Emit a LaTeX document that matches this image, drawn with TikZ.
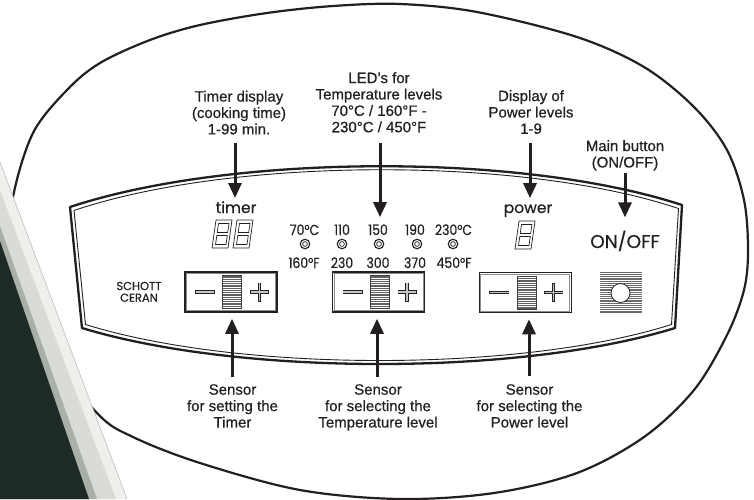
\documentclass[tikz,border=0pt]{standalone}
\usepackage{fontspec}
\setmainfont{Liberation Sans}[FakeBold=0.5]
\newfontfamily\pf{Poppins}[FakeBold=0.4]
\newfontfamily\pfn{Poppins}[FakeStretch=0.86,FakeBold=0.3]
\usetikzlibrary{arrows.meta,calc}
\definecolor{ink}{HTML}{231F20}
\definecolor{darkside}{HTML}{1E2A26}
\definecolor{stripgray}{HTML}{A9B0A8}
\definecolor{striplight}{HTML}{D9DCD5}
\definecolor{striphigh}{HTML}{EFF0EC}
\tikzset{
  digitpic/.pic={
    \draw[ink, line width=0.7pt, line join=round] (4,0) -- (20,0) -- (16,28) -- (0,28) -- cycle;
    \draw[ink, line width=0.7pt, line join=round] (6.5,3.5) -- (17,3.5) -- (15.7,12.5) -- (5.2,12.5) -- cycle;
    \draw[ink, line width=0.7pt, line join=round] (4.8,15.5) -- (15.3,15.5) -- (14,24.5) -- (3.5,24.5) -- cycle;
  },
  sensorin/.pic={
    \fill[white] (-8.5,-16.5) rectangle (10.5,16.5);
    \foreach \yy in {-16,-14.2,...,16.5} \draw[black!62, line width=0.95pt] (-8.5,\yy) -- (10.5,\yy);
    \draw[black!75, line width=0.6pt] (-8.5,-16.5) rectangle (10.5,16.5);
    \draw[ink, line width=3.2pt] (-36,0) -- (-16,0);
    \draw[black!22, line width=1.2pt] (-35.2,0) -- (-16.8,0);
    \draw[ink, line width=3.2pt] (19,0) -- (38,0);
    \draw[ink, line width=3.2pt] (28.5,-9.5) -- (28.5,9.5);
    \draw[black!22, line width=1.2pt] (19.8,0) -- (37.2,0);
    \draw[black!22, line width=1.2pt] (28.5,-8.7) -- (28.5,8.7);
  }
}
\begin{document}
\begin{tikzpicture}[x=1pt,y=-1pt,
  lbl/.style={font=\fontsize{15}{16.4}\selectfont, text=ink, align=center, inner sep=0pt},
  arr/.style={draw=ink, line width=3pt, -{Triangle[width=13pt,length=15pt]}},
  pnl/.style={font=\pf\fontsize{15.5}{15.5}\selectfont, text=ink, inner sep=0pt, anchor=base},
  tmp/.style={font=\pfn\fontsize{14.5}{14.5}\selectfont, text=ink, inner sep=0pt, anchor=base},
  ledc/.style={circle, draw=ink, line width=1.1pt, minimum size=9.5pt, inner sep=0pt},
  sbox/.style={draw=ink, line width=1.5pt, minimum width=92pt, minimum height=40pt, inner sep=0pt, fill=white}
]
\useasboundingbox (0,0) rectangle (754,499);
\fill[white] (0,0) rectangle (754,499);

% big oval
\draw[ink, line width=2.2pt] plot[smooth cycle, tension=0.55] coordinates {
 (13,197) (33,133) (67,90) (100,63) (150,40) (200,25) (267,13) (333,6) (400,4)
 (477,12) (577,37) (644,67) (694,107) (727,150) (744,200) (748,250) (744,290)
 (727,335) (694,390) (644,437) (577,473) (494,493) (400,499) (300,490) (200,463)
 (133,437) (97,413) (40,340) (8,260)};

% cooktop side strip
\fill[striphigh] (0,162) -- (127,499) -- (0,499) -- cycle;
\fill[striplight] (0,190) -- (116,499) -- (0,499) -- cycle;
\fill[stripgray] (0,226) -- (97,499) -- (0,499) -- cycle;
\fill[darkside] (0,241) -- (89,499) -- (0,499) -- cycle;
\draw[black!25, line width=0.6pt] (0,162) -- (127,499);

% control panel (double outline)
\draw[ink, line width=2.3pt, line join=round]
  (82,328) -- (70,207) .. controls (230,154) and (520,152) .. (682,205)
  -- (675,328) .. controls (520,376) and (240,376) .. (82,328) -- cycle;
\draw[ink, line width=0.9pt, line join=round]
  (85.5,324.5) -- (74,210.5) .. controls (230,157.5) and (520,155.5) .. (678.5,208.5)
  -- (671.5,324.5) .. controls (520,372.5) and (240,372.5) .. (85.5,324.5) -- cycle;

% panel texts
\node[pnl] (timertxt) at (236,213) {timer};
\node[pnl] (powertxt) at (528,213) {power};
\node[pnl, font=\pf\fontsize{18.5}{18.5}\selectfont] (onofftxt) at (625,248) {ON/OFF};
\node[font=\pf\fontsize{11.5}{11.7}\selectfont, text=ink, inner sep=0pt, align=center, anchor=north] (schott) at (139,281.7) {SCHOTT\\CERAN};

% digits
\pic at (212,220) {digitpic};
\pic at (233,220) {digitpic};
\pic at (515,221) {digitpic};

% temperature LEDs
\node[tmp] (c1) at (304.5,235) {70°C};
\node[tmp] (c2) at (342,235) {110};
\node[tmp] (c3) at (378,235) {150};
\node[tmp] (c4) at (415,235) {190};
\node[tmp] (c5) at (453.5,235) {230°C};
\node[tmp] (f1) at (304,268) {160°F};
\node[tmp] (f2) at (342,268) {230};
\node[tmp] (f3) at (378,268) {300};
\node[tmp] (f4) at (415,268) {370};
\node[tmp] (f5) at (454,268) {450°F};
\foreach \i/\xx in {1/305,2/342,3/379,4/417,5/453}{
  \node[ledc] (led\i) at (\xx,244) {};
  \draw[ink, line width=0.7pt] (led\i.center) circle[radius=2.4pt];
}

% sensor boxes
\node[sbox] (tbox) at (231,292) {};
\node[sbox] (cbox) at (378.5,292) {};
\node[sbox] (pbox) at (525.3,292.5) {};
\foreach \b in {tbox,cbox,pbox}{
  \draw[black!45, line width=0.9pt] ($(\b.north west)+(2.2,2.2)$) rectangle ($(\b.south east)+(-2.2,-2.2)$);
  \pic at (\b.center) {sensorin};
}

% on/off button
\node[minimum width=42pt, minimum height=41pt, inner sep=0pt] (onbtn) at (621,292.5) {};
\foreach \yy in {0.6,2.8,...,41} \draw[black!58, line width=1.3pt] ($(onbtn.north west)+(0,\yy)$) -- ++(42,0);
\node[circle, fill=white, draw=ink, line width=0.8pt, minimum size=19pt, inner sep=0pt] (knob) at (620.5,293) {};

% labels above
\node[lbl, anchor=north] (ltimer) at (239,90.5) {Timer display\\(cooking time)\\1-99 min.};
\node[lbl, anchor=north] (lled) at (379,72) {LED’s for\\Temperature levels\\70°C / 160°F -\\230°C / 450°F};
\node[lbl, anchor=north] (lpower) at (531,90) {Display of\\Power levels\\1-9};
\node[lbl, anchor=north] (lmain) at (625,140) {Main button\\(ON/OFF)};

% labels below
\node[lbl, anchor=north] (ls1) at (232.5,384) {Sensor\\for setting the\\Timer};
\node[lbl, anchor=north] (ls2) at (378,384) {Sensor\\for selecting the\\Temperature level};
\node[lbl, anchor=north] (ls3) at (529.5,384) {Sensor\\for selecting the\\Power level};

% arrows down
\coordinate (a1) at (235,143);
\coordinate (a2) at (380,143);
\coordinate (a3) at (530,143);
\coordinate (a4) at (625,173);
\draw[arr, shorten >=3pt] (a1) -- (a1 |- timertxt.north);
\draw[arr, shorten >=7pt] (a2) -- (a2 |- c3.north);
\draw[arr, shorten >=6pt] (a3) -- (a3 |- powertxt.north);
\draw[arr, shorten >=13pt] (a4) -- (a4 |- onofftxt.north);

% arrows up
\coordinate (b1) at (232,377);
\coordinate (b2) at (377,377);
\coordinate (b3) at (529,376);
\draw[arr, shorten >=6pt] (b1) -- (b1 |- tbox.south);
\draw[arr, shorten >=6pt] (b2) -- (b2 |- cbox.south);
\draw[arr, shorten >=6pt] (b3) -- (b3 |- pbox.south);
\end{tikzpicture}
\end{document}
